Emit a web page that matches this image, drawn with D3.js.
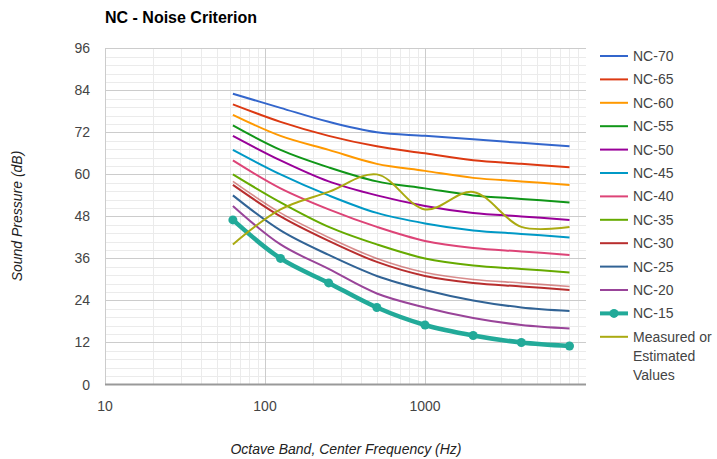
<!DOCTYPE html>
<html><head><meta charset="utf-8">
<script src="https://cdn.jsdelivr.net/npm/d3@7"></script>
<style>body{margin:0;background:#fff}svg{display:block;font-family:"Liberation Sans",Arial,sans-serif}</style>
</head><body><svg id="c" width="717" height="459"></svg>
<script>
const freqs = [63, 125, 250, 500, 1000, 2000, 4000, 8000];
const seriesNames = ["NC-70","NC-65","NC-60","NC-55","NC-50","NC-45","NC-40","NC-35","NC-30","NC-25","NC-20","NC-15","Measured or Estimated Values"];
const nc70 = [83,79,75,72,71,70,69,68];
const nc65 = [80,75,71,68,66,64,63,62];
const nc60 = [77,71,67,63,61,59,58,57];
const nc55 = [74,67,62,58,56,54,53,52];
const nc50 = [71,64,58,54,51,49,48,47];
const nc45 = [67,60,54,49,46,44,43,42];
const nc40 = [64,56,50,45,41,39,38,37];
const nc35 = [60,52,45,40,36,34,33,32];
const nc30 = [57,48,41,35,31,29,28,27];
const nc30b = [58,49,42,36,32,30,29,28];
const nc25 = [54,44,37,31,27,24,22,21];
const nc20 = [51,40,33,26,22,19,17,16];
const nc15 = [47,36,29,22,17,14,12,11];
const measured = [40,50,55,60,50,55,45,45];
const yTicks = [0,12,24,36,48,60,72,84,96];
const xTicks = [10,100,1000];
const colors = ["#3366cc","#dc3912","#ff9900","#109618","#990099","#0099c6","#dd4477","#66aa00","#b82e2e","#316395","#994499","#22aa99","#aaaa11"];

const svg = d3.select("#c");
const x = d3.scaleLog().domain([10,10000]).range([105,585]);
const y = d3.scaleLinear().domain([0,96]).range([384.5,48.3]);

// grid
const g = svg.append("g");
const minorY = d3.range(0,96.01,2.4).filter(v=>Math.abs(v/12-Math.round(v/12))>1e-6);
g.selectAll(".my").data(minorY).enter().append("line")
 .attr("x1",105).attr("x2",586).attr("y1",d=>Math.round(y(d))+0.5).attr("y2",d=>Math.round(y(d))+0.5)
 .attr("stroke","#ebebeb");
const minorX = [];
[10,100,1000].forEach(b=>{for(let k=2;k<=9;k++) minorX.push(b*k);});
g.selectAll(".mx").data(minorX).enter().append("line")
 .attr("y1",48).attr("y2",384).attr("x1",d=>Math.round(x(d))+0.5).attr("x2",d=>Math.round(x(d))+0.5)
 .attr("stroke","#ebebeb");
g.selectAll(".Mx").data(xTicks).enter().append("line")
 .attr("y1",48).attr("y2",384).attr("x1",d=>Math.round(x(d))+0.5).attr("x2",d=>Math.round(x(d))+0.5)
 .attr("stroke","#cccccc");
g.selectAll(".My").data(yTicks.filter(d=>d>0)).enter().append("line")
 .attr("x1",105).attr("x2",586).attr("y1",d=>Math.round(y(d))+0.5).attr("y2",d=>Math.round(y(d))+0.5)
 .attr("stroke","#cccccc");
g.append("line").attr("x1",105).attr("x2",586).attr("y1",y(0)).attr("y2",y(0)).attr("stroke","#999").attr("stroke-width",2);

// axis labels
svg.selectAll(".yl").data(yTicks).enter().append("text")
 .attr("x",90).attr("y",d=>y(d)+5).attr("text-anchor","end").attr("font-size",14).attr("fill","#444").text(d=>d);
svg.selectAll(".xl").data(xTicks).enter().append("text")
 .attr("x",d=>x(d)).attr("y",411).attr("text-anchor","middle").attr("font-size",14).attr("fill","#444").text(d=>d);

svg.append("text").attr("x",105).attr("y",23).attr("font-size",16).attr("font-weight","bold").attr("fill","#000").text("NC - Noise Criterion");
svg.append("text").attr("transform","translate(22,216) rotate(-90)").attr("text-anchor","middle")
 .attr("font-size",14).attr("font-style","italic").attr("fill","#222").text("Sound Pressure (dB)");
svg.append("text").attr("x",346).attr("y",454).attr("text-anchor","middle")
 .attr("font-size",14).attr("font-style","italic").attr("fill","#222").text("Octave Band, Center Frequency (Hz)");

// lines
const line = d3.line().x((d,i)=>x(freqs[i])).y(d=>y(d)).curve(d3.curveCatmullRom.alpha(0.5));
const data = [nc70,nc65,nc60,nc55,nc50,nc45,nc40,nc35,nc30,nc25,nc20,nc15,measured];
const lg = svg.append("g");
data.forEach((vals,i)=>{
  if(i===8){
    lg.append("path").attr("d",line(nc30b)).attr("fill","none").attr("stroke",colors[8]).attr("stroke-opacity",0.55).attr("stroke-width",1.6);
  }
  lg.append("path").attr("d",line(vals)).attr("fill","none").attr("stroke",colors[i])
    .attr("stroke-width",i===11?4.5:2);
  if(i===11){
    lg.selectAll(".pt").data(vals).enter().append("circle")
      .attr("cx",(d,j)=>x(freqs[j])).attr("cy",d=>y(d)).attr("r",4.5).attr("fill",colors[i]);
  }
});

// legend
const leg = svg.append("g");
const ly0 = 56, ldy = 23.4;
seriesNames.forEach((name,i)=>{
  const yy = ly0 + i*ldy;
  leg.append("line").attr("x1",600).attr("x2",628).attr("y1",yy).attr("y2",yy)
    .attr("stroke",colors[i]).attr("stroke-width",i===11?4:2);
  if(i===11) leg.append("circle").attr("cx",614).attr("cy",yy).attr("r",4.5).attr("fill",colors[i]);
  const t = leg.append("text").attr("x",633).attr("y",yy+5).attr("font-size",14).attr("fill","#444");
  if(i===12){
    ["Measured or","Estimated","Values"].forEach((s,k)=>t.append("tspan").attr("x",633).attr("dy",k===0?0:19).text(s));
  } else t.text(name);
});
</script></body></html>
